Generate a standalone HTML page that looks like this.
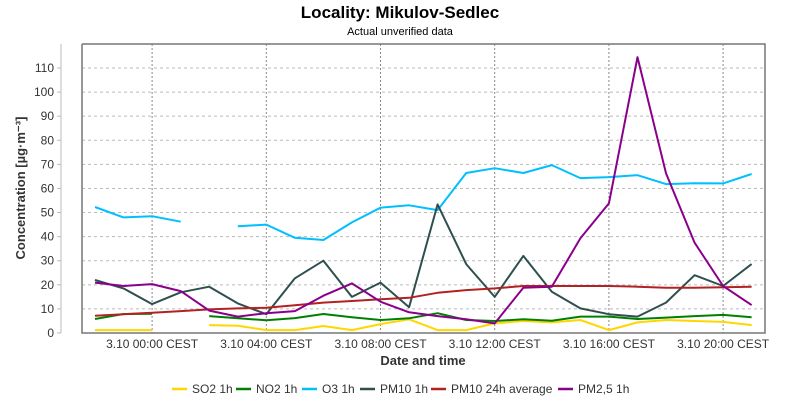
<!DOCTYPE html>
<html><head><meta charset="utf-8"><style>
body{margin:0;background:#fff;font-family:"Liberation Sans",sans-serif}
</style></head><body>
<svg id="chart" width="800" height="400" xmlns="http://www.w3.org/2000/svg" font-family="Liberation Sans, sans-serif">
<text x="400" y="18" text-anchor="middle" font-size="17" font-weight="bold" fill="#000">Locality: Mikulov-Sedlec</text>
<text x="400" y="35" text-anchor="middle" font-size="11" fill="#000">Actual unverified data</text>
<g id="grid"></g>
<g id="axes"></g>
<g id="series"></g>
<text transform="translate(25,188) rotate(-90)" text-anchor="middle" font-size="13" font-weight="bold" fill="#333">Concentration [µg·m⁻³]</text>
<text x="423" y="365" text-anchor="middle" font-size="13" font-weight="bold" fill="#333">Date and time</text>
<g id="legend"></g>
</svg>
<script>
const yTicks=[0,10,20,30,40,50,60,70,80,90,100,110];
const xTickHours=[2,6,10,14,18,22];
const xTickLabels=["3.10 00:00 CEST","3.10 04:00 CEST","3.10 08:00 CEST","3.10 12:00 CEST","3.10 16:00 CEST","3.10 20:00 CEST"];
const seriesNames=["SO2 1h","NO2 1h","O3 1h","PM10 1h","PM10 24h average","PM2,5 1h"];
const so2=[1.2,1.2,1.2,null,3.3,3,1.2,1.2,2.9,1.2,3.7,5.7,1.2,1.2,4,5,4.4,5.4,1.2,4.4,5.4,5,4.6,3.3];
const no2=[5.8,7.9,8,null,7,6.1,5.3,6.2,7.9,6.5,5.4,6.1,8.2,5.4,5,5.7,5.1,6.8,6.8,5.8,6.4,7,7.5,6.5];
const o3=[52.3,48,48.5,46.2,null,44.3,45,39.5,38.6,45.9,52,53,51,66.4,68.4,66.4,69.7,64.3,64.7,65.5,61.8,62.2,62.1,66];
const pm10=[22,18.5,12,16.9,19.2,12.3,7.8,22.7,30,15,20.9,10.7,53.4,28.6,15,32,17.1,10.2,7.8,6.8,12.6,24,19.5,28.6];
const pm10avg=[7.2,7.8,8.4,9.1,9.8,10.2,10.5,11.5,12.6,13.3,14,14.6,16.7,17.8,18.5,19.5,19.5,19.5,19.5,19.2,18.8,18.8,19,19.2];
const pm25=[20.9,19.5,20.3,17.4,9.3,6.8,8.2,9.1,15.5,20.6,13,8.6,7,5.7,4,18.8,19.2,39.3,53.8,114.5,66.3,37.5,19.5,11.6];
const colors=["#ffd700","#008000","#00bfff","#2f4f4f","#b22222","#8b008b"];
const L=82,R=765,T=44,B=333;
const y=v=>B-v*(B-68)/110;
const x=i=>95+i*28.55;
const NS="http://www.w3.org/2000/svg";
function mk(tag,attrs,parent){const e=document.createElementNS(NS,tag);for(const k in attrs)e.setAttribute(k,attrs[k]);parent.appendChild(e);return e;}
const grid=document.getElementById('grid'),axes=document.getElementById('axes'),ser=document.getElementById('series'),leg=document.getElementById('legend');
yTicks.forEach(v=>{
 if(v>0){const g=mk('line',{x1:L,x2:R,y1:y(v),y2:y(v),stroke:'#bbb','stroke-dasharray':'3,3'},grid);
 
 }
 const t=mk('line',{x1:57,x2:61,y1:y(v),y2:y(v),stroke:'#bbb'},axes);
 
 
 const tx=mk('text',{x:54,y:y(v)+4,'text-anchor':'end','font-size':12,fill:'#333'},axes);tx.textContent=v;
 
 
});
xTickHours.forEach((h,k)=>{
 const g=mk('line',{x1:x(h),x2:x(h),y1:T,y2:B,stroke:'#888','stroke-dasharray':'2,2'},grid);
 
 
 const tx=mk('text',{x:x(h),y:348,'text-anchor':'middle','font-size':12,fill:'#333'},axes);tx.textContent=xTickLabels[k];
 
 
});
const ya=mk('line',{x1:61,x2:61,y1:T,y2:B,stroke:'#bbb'},axes);


const fr=mk('polyline',{points:`${L},${T} ${R},${T} ${R},${B} ${L},${B} ${L},${T}`,fill:'none',stroke:'#777','stroke-width':1.5},axes);


const all=[so2,no2,o3,pm10,pm10avg,pm25];
const keys=["so2","no2","o3","pm10","pm10-avg","pm25"];
all.forEach((arr,s)=>{
 let d='',pen=false;
 arr.forEach((v,i)=>{if(v==null){pen=false;return;}d+=(pen?'L':'M')+x(i).toFixed(1)+' '+y(v).toFixed(1)+' ';pen=true;});
 const p=mk('path',{d:d,fill:'none',stroke:colors[s],'stroke-width':2,'stroke-linejoin':'round'},ser);
 
 
});
const legX=[172,236,302,360,431,558];
seriesNames.forEach((n,s)=>{
 const g=mk('g',{},leg);
 
 
 mk('line',{x1:legX[s],x2:legX[s]+15,y1:389,y2:389,stroke:colors[s],'stroke-width':2.5},g);
 const t=mk('text',{x:legX[s]+20,y:393,'font-size':12,fill:'#333'},g);t.textContent=n;
});
</script>
</body></html>
